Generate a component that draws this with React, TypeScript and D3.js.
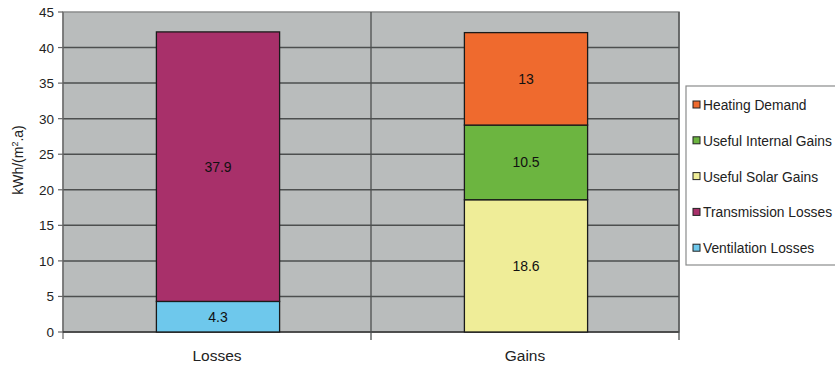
import React from "react";
import * as d3 from "d3";

const categories = ["Losses", "Gains"];
const seriesNames = ["Ventilation Losses", "Transmission Losses", "Useful Solar Gains", "Useful Internal Gains", "Heating Demand"];
const seriesColors = ["#6ec8ec", "#a8306a", "#efed98", "#6cb540", "#ef6a2e"];
const lossesValues = [4.3, 37.9, 0, 0, 0];
const gainsValues = [0, 0, 18.6, 10.5, 13];
const yTicks = [0, 5, 10, 15, 20, 25, 30, 35, 40, 45];
const legendOrder = ["Heating Demand", "Useful Internal Gains", "Useful Solar Gains", "Transmission Losses", "Ventilation Losses"];

const W = 835, H = 367;
const plot = { left: 63, right: 679, top: 12, bottom: 332 };
const font = "Liberation Sans, Arial, sans-serif";

export default function App() {
  const x = d3.scaleBand().domain(categories).range([plot.left, plot.right]).paddingInner(0).paddingOuter(0);
  const y = d3.scaleLinear().domain([0, 45]).range([plot.bottom, plot.top]);
  const values = [lossesValues, gainsValues];
  const barW = x.bandwidth() * 0.4;

  const bars: React.ReactNode[] = [];
  categories.forEach((c, ci) => {
    let acc = 0;
    values[ci].forEach((v, si) => {
      if (v <= 0) return;
      const y0 = y(acc), y1 = y(acc + v);
      const bx = (x(c) as number) + x.bandwidth() / 2 - barW / 2 + 1;
      bars.push(
        <g key={c + si}>
          <rect x={bx} y={y1} width={barW} height={y0 - y1} fill={seriesColors[si]} stroke="#1a1a1a" strokeWidth={1.3} />
          <text x={bx + barW / 2} y={(y0 + y1) / 2 + 5} textAnchor="middle" fontSize={14} fontFamily={font} fill="#111">{v}</text>
        </g>
      );
      acc += v;
    });
  });

  return (
    <svg width={W} height={H} style={{ position: "absolute", left: 0, top: 0, background: "#fff" }}>
      <rect x={plot.left} y={plot.top} width={plot.right - plot.left} height={plot.bottom - plot.top} fill="#b9bcbc" stroke="#8a8c8c" strokeWidth={1.5} />
      {yTicks.map(t => (
        <g key={t}>
          {t > 0 && t < 45 && <line x1={plot.left} x2={plot.right} y1={y(t)} y2={y(t)} stroke="#4d4f4f" strokeWidth={1.5} />}
          <line x1={plot.left - 5} x2={plot.left} y1={y(t)} y2={y(t)} stroke="#666" strokeWidth={1.2} />
          <text x={plot.left - 9} y={y(t) + 5} textAnchor="end" fontSize={13.5} fontFamily={font} fill="#222">{t}</text>
        </g>
      ))}
      <line x1={plot.left} x2={plot.left} y1={plot.top} y2={plot.bottom + 7} stroke="#666" strokeWidth={1.2} />
      <line x1={plot.left} x2={plot.right} y1={plot.bottom} y2={plot.bottom} stroke="#333" strokeWidth={1.5} />
      {categories.map((c, i) => (
        <line key={c} x1={(x(c) as number) + x.bandwidth()} x2={(x(c) as number) + x.bandwidth()} y1={plot.top} y2={plot.bottom + 8} stroke="#4d4f4f" strokeWidth={1.3} />
      ))}
      {bars}
      {categories.map(c => (
        <text key={c} x={(x(c) as number) + x.bandwidth() / 2} y={361} textAnchor="middle" fontSize={15.5} fontFamily={font} fill="#222">{c}</text>
      ))}
      <text transform={`translate(23,${(plot.top + plot.bottom) / 2 - 12}) rotate(-90)`} textAnchor="middle" fontSize={14} fontFamily={font} fill="#222">
        kWh/(m<tspan fontSize={9} dy={-5}>2</tspan><tspan dy={5}>.a)</tspan>
      </text>
      <rect x={686} y={86} width={160} height={179} fill="#fff" stroke="#8a8c8c" strokeWidth={1.2} />
      {legendOrder.map((name, i) => {
        const si = seriesNames.indexOf(name);
        const ly = 105 + i * 35.8;
        return (
          <g key={name}>
            <rect x={693} y={ly - 4} width={7} height={7} fill={seriesColors[si]} stroke="#222" strokeWidth={1} />
            <text x={703} y={ly + 5} fontSize={13.8} fontFamily={font} fill="#222">{name}</text>
          </g>
        );
      })}
    </svg>
  );
}
